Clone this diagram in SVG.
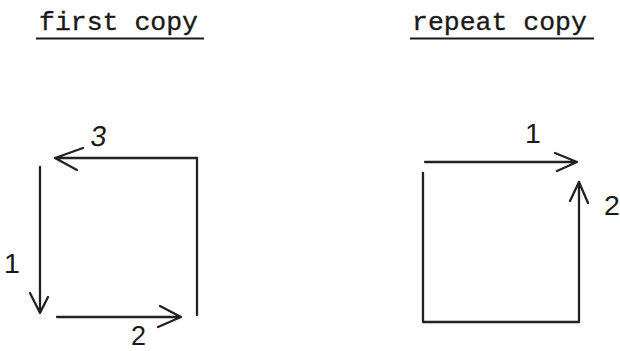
<svg xmlns="http://www.w3.org/2000/svg" width="620" height="351" viewBox="0 0 620 351">
  <style>
    .title { font-family: "Liberation Mono", "Courier New", monospace; font-size: 26.5px; fill: #1a1a1a; stroke: #1a1a1a; stroke-width: 0.35; }
    .rule { stroke: #1a1a1a; stroke-width: 2.2; }
    .edge { fill: none; stroke: #222; stroke-width: 2.3; stroke-linecap: round; stroke-linejoin: round; }
    .num { font-family: "Liberation Sans", Arial, sans-serif; font-size: 28.5px; fill: #1a1a1a; }
  </style>

  <rect width="620" height="351" fill="#fff"/>

  <!-- headings -->
  <g id="heading-first">
    <text class="title" x="39" y="30">first copy</text>
    <line class="rule" x1="36" y1="38.5" x2="204" y2="38.5"/>
  </g>
  <g id="heading-repeat">
    <text class="title" x="412" y="30">repeat copy</text>
    <line class="rule" x1="410" y1="38.5" x2="594" y2="38.5"/>
  </g>

  <!-- left figure: sides drawn in order 1, 2, 3 -->
  <g id="first-square">
    <line class="edge" x1="197" y1="158" x2="197" y2="315"/>
  </g>
  <g id="connectors">
    <!-- first copy -->
    <path class="edge" d="M40 167 L40 313 M30 293 L40 313 L48 297"/>
    <path class="edge" d="M57 317 L181 317 M160 306 L181 317 L158 327"/>
    <path class="edge" d="M197 158 L55 158 M83 148 L55 158 L77 170"/>
    <!-- repeat copy -->
    <path class="edge" d="M425 162 L577 162 M555 153 L577 162 L557 171"/>
    <path class="edge" d="M579 322 L579 182 M570 201 L579 182 L588 203"/>
  </g>
  <g id="repeat-square">
    <path class="edge" d="M423 173 L423 322 L579 322"/>
  </g>

  <!-- stroke numbers -->
  <g id="label-first-1"><text class="num" x="4" y="273">1</text></g>
  <g id="label-first-2"><text class="num" x="131" y="345" style="font-size:27px">2</text></g>
  <g id="label-first-3"><text class="num" x="90" y="146" transform="skewX(-8) translate(20 0)">3</text></g>
  <g id="label-repeat-1"><text class="num" x="525" y="143">1</text></g>
  <g id="label-repeat-2"><text class="num" x="604" y="215">2</text></g>
</svg>
